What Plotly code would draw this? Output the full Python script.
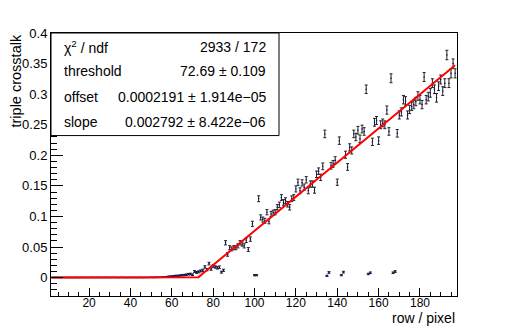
import numpy as np
import plotly.graph_objects as go

# per-row triple crosstalk, rows 2..197
rows = list(range(2, 198))

crosstalk = [
    # rows 2-57: flat at zero
    0.0003, 0.0002, 0.0004, 0.0003, 0.0002, 0.0003, 0.0004, 0.0002,
    0.0003, 0.0003, 0.0002, 0.0004, 0.0003, 0.0002, 0.0003, 0.0004,
    0.0003, 0.0002, 0.0003, 0.0004, 0.0003, 0.0002, 0.0004, 0.0003,
    0.0003, 0.0002, 0.0004, 0.0003, 0.0002, 0.0003, 0.0004, 0.0003,
    0.0002, 0.0003, 0.0004, 0.0003, 0.0002, 0.0003, 0.0004, 0.0003,
    0.0003, 0.0002, 0.0004, 0.0003, 0.0002, 0.0003, 0.0004, 0.0003,
    0.0005, 0.0004, 0.0005, 0.0006, 0.0005, 0.0007, 0.0008, 0.0010,
    # rows 58-85: slow rise around threshold
    0.0016, 0.0020, 0.0022, 0.0025, 0.0030, 0.0030, 0.0035, 0.0040,
    0.0042, 0.0048, 0.0056, 0.0060, 0.0048, 0.0100, 0.0085, 0.0095,
    0.0110, 0.0120, 0.0175, 0.0130, 0.0230, 0.0140, 0.0190, 0.0175,
    0.0160, 0.0170, 0.0090, 0.0120,
    # rows 86-197
    0.057, 0.038, 0.049, 0.047, 0.049, 0.049, 0.052, 0.057, 0.055, 0.052,
    0.061, 0.046, 0.063, 0.088, 0.004, 0.004, 0.129, 0.0985, 0.095, 0.093,
    0.107, 0.092, 0.104, 0.106, 0.107, 0.115, 0.119, 0.131, 0.123, 0.126,
    0.120, 0.115, 0.129, 0.131, 0.145, 0.156, 0.142, 0.155, 0.148, 0.160,
    0.142, 0.153, 0.153, 0.143, 0.169, 0.174, 0.164, 0.182, 0.235, 0.003,
    0.0085, 0.183, 0.186, 0.192, 0.156, 0.224, 0.004, 0.009, 0.201, 0.181,
    0.213, 0.208, 0.235, 0.230, 0.241, 0.227, 0.243, 0.239, 0.308, 0.006,
    0.008, 0.222, 0.254, 0.257, 0.224, 0.250, 0.253, 0.250, 0.274, 0.239,
    0.326, 0.008, 0.010, 0.236, 0.266, 0.271, 0.291, 0.289, 0.266, 0.275,
    0.280, 0.283, 0.288, 0.297, 0.291, 0.283, 0.328, 0.291, 0.296, 0.302,
    0.318, 0.308, 0.294, 0.313, 0.324, 0.305, 0.318, 0.364, 0.318, 0.334,
    0.350, 0.334,
]

crosstalk_err = [
    # rows 2-57
    0.0004, 0.0004, 0.0004, 0.0004, 0.0004, 0.0004, 0.0004, 0.0004,
    0.0004, 0.0004, 0.0004, 0.0004, 0.0004, 0.0004, 0.0004, 0.0004,
    0.0004, 0.0004, 0.0004, 0.0004, 0.0004, 0.0004, 0.0004, 0.0004,
    0.0004, 0.0004, 0.0004, 0.0004, 0.0004, 0.0004, 0.0004, 0.0004,
    0.0004, 0.0004, 0.0004, 0.0004, 0.0004, 0.0004, 0.0004, 0.0004,
    0.0004, 0.0004, 0.0004, 0.0004, 0.0004, 0.0004, 0.0004, 0.0004,
    0.0005, 0.0005, 0.0005, 0.0005, 0.0005, 0.0005, 0.0006, 0.0006,
    # rows 58-85
    0.0008, 0.0008, 0.0009, 0.0009, 0.0010, 0.0010, 0.0011, 0.0011,
    0.0012, 0.0012, 0.0013, 0.0013, 0.0013, 0.0015, 0.0015, 0.0016,
    0.0017, 0.0018, 0.0020, 0.0018, 0.0022, 0.0019, 0.0021, 0.0020,
    0.0020, 0.0021, 0.0016, 0.0018,
    # rows 86-197
    0.0035, 0.0030, 0.0033, 0.0032, 0.0033, 0.0033, 0.0034, 0.0035, 0.0035, 0.0034,
    0.0036, 0.0032, 0.0036, 0.0042, 0.0010, 0.0010, 0.0048, 0.0042, 0.0041, 0.0040,
    0.0043, 0.0040, 0.0042, 0.0043, 0.0043, 0.0044, 0.0045, 0.0047, 0.0046, 0.0046,
    0.0045, 0.0044, 0.0047, 0.0047, 0.0049, 0.0051, 0.0049, 0.0051, 0.0050, 0.0052,
    0.0049, 0.0051, 0.0051, 0.0049, 0.0053, 0.0054, 0.0052, 0.0055, 0.0062, 0.0010,
    0.0014, 0.0055, 0.0056, 0.0057, 0.0051, 0.0061, 0.0010, 0.0014, 0.0058, 0.0055,
    0.0059, 0.0058, 0.0062, 0.0061, 0.0063, 0.0061, 0.0063, 0.0062, 0.0070, 0.0012,
    0.0013, 0.0060, 0.0064, 0.0065, 0.0061, 0.0064, 0.0064, 0.0064, 0.0067, 0.0062,
    0.0073, 0.0013, 0.0014, 0.0062, 0.0066, 0.0066, 0.0069, 0.0069, 0.0066, 0.0067,
    0.0068, 0.0068, 0.0069, 0.0070, 0.0069, 0.0068, 0.0073, 0.0069, 0.0070, 0.0070,
    0.0072, 0.0071, 0.0070, 0.0072, 0.0073, 0.0071, 0.0072, 0.0077, 0.0072, 0.0074,
    0.0076, 0.0074,
]

# fit result
threshold = 72.69
offset = 0.0002191
slope = 0.002792
stats_labels = ["χ<sup>2</sup> / ndf", "threshold", "offset", "slope"]
stats_values = ["2933 / 172", "72.69 ± 0.109", "0.0002191 ± 1.914e−05", "0.002792 ± 8.422e−06"]

font = "Liberation Sans, Arial, sans-serif"

fig = go.Figure()

fig.add_trace(go.Scatter(
    x=rows,
    y=crosstalk,
    mode='markers',
    marker=dict(color='#000099', size=1.5),
    error_y=dict(type='data', array=crosstalk_err, color='#222222', thickness=1, width=1.5),
    showlegend=False,
))

# fit function sampled like ROOT (npx=100)
fx = np.linspace(2, 197, 100)
fy = np.where(fx < threshold, offset, offset + slope * (fx - threshold))
fig.add_trace(go.Scatter(
    x=fx, y=fy, mode='lines',
    line=dict(color='#ff0000', width=2),
    showlegend=False,
))

axis_common = dict(
    showgrid=False, zeroline=False,
    showline=True, linecolor='black', linewidth=1, mirror=True,
    ticks='inside', tickcolor='black',
)

fig.update_xaxes(
    range=[1.6, 197.9], tick0=0, dtick=20, ticklen=8,
    tickfont=dict(family=font, size=12, color='black'),
    ticklabelstandoff=-4,
    minor=dict(dtick=5, ticklen=4, ticks='inside', tickcolor='black'),
    **axis_common
)
fig.update_yaxes(
    range=[-0.03, 0.4], tick0=0, dtick=0.05, ticklen=12,
    tickfont=dict(family=font, size=13, color='black'),
    minor=dict(dtick=0.01, ticklen=6, ticks='inside', tickcolor='black'),
    **axis_common
)

# stats box
fig.add_shape(type='rect', xref='paper', yref='paper',
              x0=0, x1=0.5616, y0=0.61, y1=1,
              line=dict(color='black', width=1), fillcolor='white', layer='above')

row_y = [46.5, 71.5, 97, 122]
for lab, val, py in zip(stats_labels, stats_values, row_y):
    yp = (296 - py) / 263
    fig.add_annotation(x=(62 - 51) / 406, y=yp, xref='paper', yref='paper',
                       text=lab, showarrow=False, xanchor='left', yanchor='middle',
                       font=dict(family=font, size=14, color='black'))
    fig.add_annotation(x=(268 - 51) / 406, y=yp, xref='paper', yref='paper',
                       text=val, showarrow=False, xanchor='right', yanchor='middle',
                       font=dict(family=font, size=14, color='black'))

fig.add_annotation(x=(15 - 51) / 406, y=1, xref='paper', yref='paper',
                   text='triple crosstalk', textangle=-90, showarrow=False,
                   xanchor='center', yanchor='top',
                   font=dict(family=font, size=14.5, color='black'))
fig.add_annotation(x=1, y=(296 - 318) / 263, xref='paper', yref='paper',
                   text='row / pixel', showarrow=False,
                   xanchor='right', yanchor='middle',
                   font=dict(family=font, size=14, color='black'))

# page body has an 8px margin, so the figure is shrunk and shifted to compensate
fig.update_layout(
    width=500, height=320,
    margin=dict(l=43, r=51, t=25, b=32),
    paper_bgcolor='white', plot_bgcolor='white',
    showlegend=False,
)

fig.write_html("out.html")
